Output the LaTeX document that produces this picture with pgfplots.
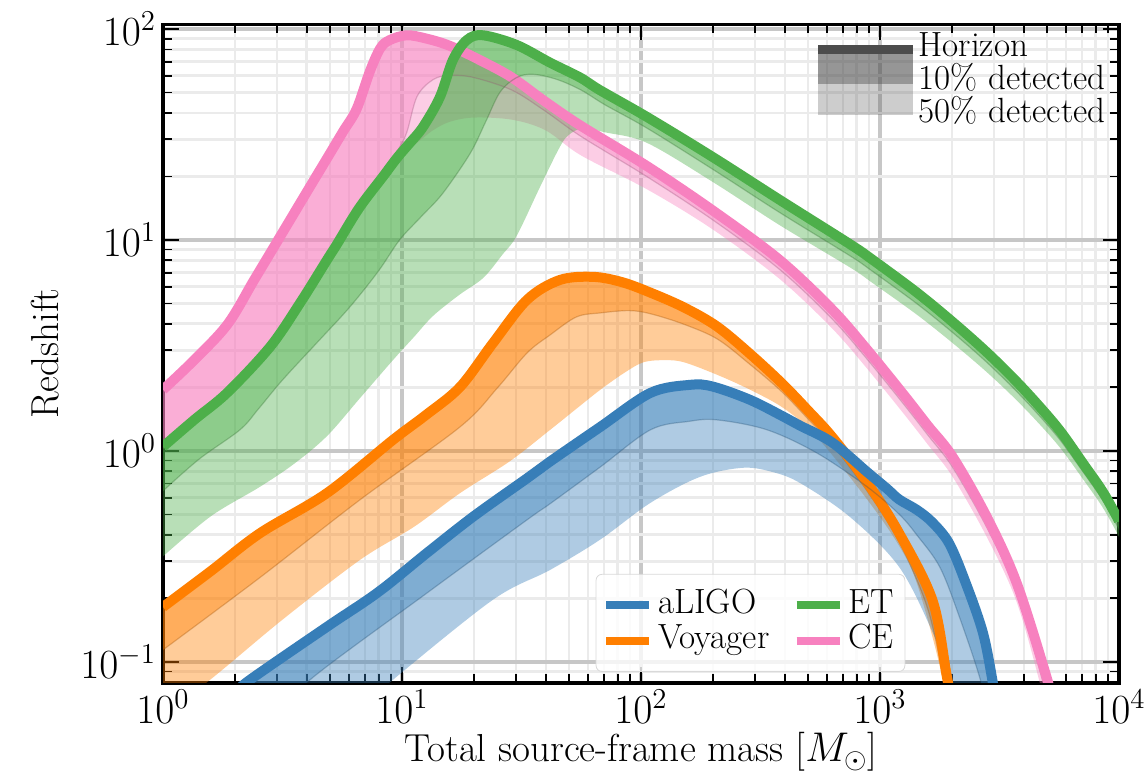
\documentclass[border=0pt]{standalone}
\usepackage{pgfplots}
\usepackage{pgfplotstable}
\pgfplotsset{compat=1.18}
\usepgfplotslibrary{fillbetween}
\definecolor{cblue}{HTML}{377EB8}
\definecolor{corange}{HTML}{FF7F00}
\definecolor{cgreen}{HTML}{4DAF4A}
\definecolor{cpink}{HTML}{F781BF}

% ---------------- CE ----------------
\pgfplotstableread{
M z
1 1.950
1.349 2.692
1.862 3.981
2.399 6.427
2.884 9.099
3.499 13.12
4.169 18.28
4.853 24.32
5.662 32.58
6.457 41.69
7.345 63.10
8.128 81.28
8.913 88.72
10.47 93.33
12.59 90.16
15.85 83.18
21.38 70.79
28.84 58.88
39.81 45.19
56.23 34.67
105.9 22.39
199.5 13.80
380.2 8.035
631.0 4.677
883.1 3.020
1259 1.841
1585 1.318
2018 0.9333
2818 0.4786
3741 0.2344
5012 0.0822
5754 0.0447
}\ceH
\pgfplotstableread{
M z
1 1.072
1.854 1.950
2.805 3.236
3.741 5.248
4.853 8.318
5.346 10.23
6.607 14.45
8.318 20.42
9.550 26.30
10.47 32.36
11.56 47.86
13.49 57.54
15.85 60.26
19.95 58.88
28.84 51.29
39.81 40.74
56.23 30.90
105.9 19.95
199.5 12.45
380.2 7.244
631.0 4.217
883.1 2.723
1259 1.660
1585 1.189
2018 0.8318
2818 0.4266
3741 0.2113
4898 0.0741
5623 0.0398
}\ceT
\pgfplotstableread{
M z
1 1.023
1.854 1.862
2.805 3.090
3.741 5.012
4.853 7.943
5.346 9.772
6.607 13.80
8.318 19.50
9.550 23.99
10.47 26.30
11.56 28.84
13.49 33.11
15.85 36.31
19.95 38.02
28.84 37.15
39.81 33.11
56.23 25.12
105.9 17.38
199.5 11.22
380.2 6.531
631.0 3.802
883.1 2.455
1259 1.496
1585 1.072
2018 0.7499
2818 0.3846
3741 0.1905
4786 0.0708
5623 0.0316
}\ceF
% ---------------- ET ----------------
\pgfplotstableread{
M z
1 1.047
1.361 1.413
1.854 1.884
2.805 3.112
3.741 5.012
4.853 8.035
5.346 9.550
6.607 14.13
8.318 19.95
9.550 24.55
10.79 28.84
12.25 34.36
14.42 47.64
16.33 71.29
18.71 88.72
21.83 93.33
30.20 83.95
41.69 69.18
55.59 58.88
67.30 51.29
105.9 38.28
199.5 24.72
380.2 15.49
748.2 9.550
933.3 8.035
1429 5.623
1995 4.121
2692 3.055
3467 2.317
4365 1.758
5623 1.259
7079 0.8710
8511 0.6457
9772 0.4898
10000 0.4624
}\etH
\pgfplotstableread{
M z
1 0.6457
1.413 0.9120
2.099 1.259
2.512 1.585
3.162 2.168
4.467 3.311
6.026 4.786
7.943 7.079
9.772 10.0
12.02 12.88
14.79 16.60
19.28 25.70
22.39 36.31
25.70 50.12
30.20 58.88
35.48 60.95
44.67 57.54
56.23 51.29
70.79 43.65
105.9 33.88
199.5 21.63
380.2 13.49
748.2 8.414
933.3 7.079
1429 4.977
1995 3.673
2692 2.735
3467 2.080
4365 1.585
5623 1.140
7079 0.7943
8511 0.5888
9772 0.4467
10000 0.4217
}\etT
\pgfplotstableread{
M z
1 0.3162
1.585 0.4898
2.547 0.6761
3.548 0.8710
4.853 1.175
6.668 1.778
9.162 2.692
11.22 3.467
13.49 4.365
17.38 5.495
21.88 6.607
26.30 8.511
30.20 10.47
37.76 17.78
45.71 27.54
50.12 31.62
57.54 33.88
70.79 32.36
105.9 28.84
199.5 18.84
380.2 11.75
748.2 7.413
933.3 6.237
1429 4.416
1995 3.273
2692 2.455
3467 1.884
4365 1.445
5623 1.047
7079 0.7328
8511 0.5433
9772 0.4121
10000 0.3890
}\etF
% ---------------- Voyager ----------------
\pgfplotstableread{
M z
1 0.1820
1.585 0.2692
2.547 0.4074
4.853 0.6310
9.162 1.127
12.59 1.479
17.50 2.009
23.99 3.236
33.34 5.200
45.71 6.457
63.10 6.683
83.18 6.310
109.6 5.623
151.4 4.786
208.0 3.890
285.8 2.884
389.0 2.089
501.2 1.549
631.0 1.164
883.1 0.7079
1202 0.4074
1660 0.1950
1905 0.0851
2089 0.0501
}\voH
\pgfplotstableread{
M z
1 0.1140
2.547 0.2512
6.668 0.5861
17.50 1.300
25.12 1.995
33.34 2.911
41.69 3.548
53.70 4.315
67.61 4.508
89.13 4.624
109.6 4.467
151.4 3.981
208.9 3.388
285.8 2.570
389.0 1.905
501.2 1.413
631.0 1.072
883.1 0.6457
1202 0.3715
1585 0.1778
1862 0.0794
2042 0.0501
}\voT
\pgfplotstableread{
M z
1 0.0562
1.574 0.0822
3.162 0.1585
6.668 0.3041
11.22 0.4365
17.50 0.6310
28.18 0.8913
41.69 1.259
53.70 1.585
67.61 1.950
85.11 2.344
102.3 2.630
125.9 2.692
151.4 2.630
208.9 2.291
285.8 1.950
398.1 1.585
544.5 1.164
883.1 0.5888
1202 0.3548
1429 0.2344
1778 0.0955
1950 0.0501
}\voF
% ---------------- aLIGO ----------------
\pgfplotstableread{
M z
1.995 0.0708
2.312 0.0822
4.853 0.1466
7.943 0.2138
12.74 0.3289
19.95 0.4898
33.34 0.7413
41.69 0.8913
67.61 1.300
109.6 1.884
160.3 2.056
199.5 2.018
285.8 1.746
398.1 1.445
462.4 1.318
631.0 1.096
883.1 0.7943
1072 0.6607
1202 0.5888
1429 0.5248
1660 0.4571
1950 0.3631
2291 0.2344
2692 0.1380
2951 0.0822
3162 0.0501
}\alH
\pgfplotstableread{
M z
3.162 0.0562
4.121 0.0822
12.74 0.2123
33.34 0.4710
41.69 0.5623
67.61 0.8395
109.6 1.259
158.5 1.380
208.0 1.403
336.5 1.259
544.5 0.9772
883.1 0.6761
1202 0.5012
1429 0.3981
1778 0.2818
2138 0.1660
2630 0.0822
2884 0.0501
}\alT
\pgfplotstableread{
M z
6.310 0.0562
9.162 0.0822
23.99 0.1968
41.69 0.2729
67.61 0.3802
109.6 0.5675
176.6 0.7534
267.3 0.8318
354.8 0.7943
462.4 0.7047
748.2 0.4864
1202 0.2818
1660 0.1380
1995 0.0794
2188 0.0501
}\alF

\newcommand{\lblfont}{\fontsize{19.5}{23}\selectfont}
\newcommand{\tckfont}{\fontsize{19.5}{23}\selectfont}
\newcommand{\legfont}{\fontsize{17.5}{20}\selectfont}

\pgfplotsset{
  curve/.style={smooth, tension=0.55, forget plot},
  pathonly/.style={curve, draw=none},
}

\begin{document}
\begin{tikzpicture}
\begin{axis}[name=main,
  scale only axis, width=478pt, height=329.2pt,
  xmode=log, ymode=log,
  xmin=1, xmax=10000, ymin=0.0795, ymax=105,
  no markers,
  xtick={1,10,100,1000,10000},
  ytick={0.1,1,10,100},
  minor xtick={2,3,4,5,6,7,8,9,20,30,40,50,60,70,80,90,200,300,400,500,600,700,800,900,2000,3000,4000,5000,6000,7000,8000,9000},
  minor ytick={0.09,0.2,0.3,0.4,0.5,0.6,0.7,0.8,0.9,2,3,4,5,6,7,8,9,20,30,40,50,60,70,80,90},
  grid=both,
  major grid style={draw=black!22, line width=2pt},
  minor grid style={draw=black!8, line width=1.4pt},
  tick align=inside,
  major tick length=8pt, minor tick length=4.5pt,
  major tick style={black, line width=1.1pt},
  minor tick style={black, line width=0.9pt},
  axis line style={line width=1.6pt},
  tick label style={font=\tckfont},
  label style={font=\lblfont},
  xlabel={Total source-frame mass [$M_\odot$]},
  ylabel={Redshift},
  xlabel style={at={(axis description cs:0.5,-0.105)}, anchor=center},
  ylabel style={at={(axis description cs:-0.1234,0.5)}, anchor=center},
  legend columns=2,
  legend cell align=left,
  legend image code/.code={\draw[#1] (0pt,0pt) -- (21.5pt,0pt);},
  legend style={at={(0.6145,0.0167)}, anchor=south, font=\legfont,
    draw=black!15, rounded corners=3pt, fill=white, fill opacity=0.8, text opacity=1,
    inner xsep=3pt, inner ysep=6.5pt,
    nodes={inner xsep=2.5pt, inner ysep=1.2pt, text height=11.8pt, text depth=3.6pt},
    /tikz/every even column/.append style={column sep=9pt}},
]
% ----- CE -----
\addplot[pathonly, name path=ceH] table {\ceH};
\addplot[pathonly, name path=ceT] table {\ceT};
\addplot[pathonly, name path=ceF] table {\ceF};
\addplot[fill=cpink, fill opacity=0.4, draw=none, forget plot] fill between[of=ceH and ceF];
\addplot[fill=cpink, fill opacity=0.4, draw=none, forget plot] fill between[of=ceH and ceT];
\addplot[curve, cpink!60!black, opacity=0.3, line width=0.6pt] table {\ceT};
\addplot[curve, cpink, line width=5pt] table {\ceH};
% ----- ET -----
\addplot[pathonly, name path=etH] table {\etH};
\addplot[pathonly, name path=etT] table {\etT};
\addplot[pathonly, name path=etF] table {\etF};
\addplot[fill=cgreen, fill opacity=0.4, draw=none, forget plot] fill between[of=etH and etF];
\addplot[fill=cgreen, fill opacity=0.4, draw=none, forget plot] fill between[of=etH and etT];
\addplot[curve, cgreen!60!black, opacity=0.3, line width=0.6pt] table {\etT};
\addplot[curve, cgreen, line width=5pt] table {\etH};
% ----- Voyager -----
\addplot[pathonly, name path=voH] table {\voH};
\addplot[pathonly, name path=voT] table {\voT};
\addplot[pathonly, name path=voF] table {\voF};
\addplot[fill=corange, fill opacity=0.4, draw=none, forget plot] fill between[of=voH and voF];
\addplot[fill=corange, fill opacity=0.4, draw=none, forget plot] fill between[of=voH and voT];
\addplot[curve, corange!60!black, opacity=0.3, line width=0.6pt] table {\voT};
\addplot[curve, corange, line width=5pt] table {\voH};
% ----- aLIGO -----
\addplot[pathonly, name path=alH] table {\alH};
\addplot[pathonly, name path=alT] table {\alT};
\addplot[pathonly, name path=alF] table {\alF};
\addplot[fill=cblue, fill opacity=0.4, draw=none, forget plot] fill between[of=alH and alF];
\addplot[fill=cblue, fill opacity=0.4, draw=none, forget plot] fill between[of=alH and alT];
\addplot[curve, cblue!60!black, opacity=0.3, line width=0.6pt] table {\alT};
\addplot[curve, cblue, line width=5pt] table {\alH};
% ----- legend -----
\addlegendimage{cblue, line width=4pt}
\addlegendentry{aLIGO}
\addlegendimage{cgreen, line width=4pt}
\addlegendentry{ET}
\addlegendimage{corange, line width=4pt}
\addlegendentry{Voyager}
\addlegendimage{cpink, line width=4pt}
\addlegendentry{CE}
\end{axis}
% second (invisible) axis holding the detection-level legend
\begin{axis}[at={(main.south west)}, anchor=south west,
  scale only axis, width=478pt, height=329.2pt,
  hide axis, xmin=0, xmax=1, ymin=0, ymax=1, no markers,
  legend cell align=left,
  legend style={at={(0.9916,0.993)}, anchor=north east, draw=none, fill=none,
    font=\legfont, inner sep=0pt, row sep=0pt,
    nodes={inner xsep=2.5pt, inner ysep=1.75pt, text height=12pt, text depth=1pt}},
]
\addlegendimage{legend image code/.code={\fill[overlay, draw=none, black!70] (0pt,-4pt) rectangle (47.5pt,0.5pt); \path[draw=none] (0pt,0pt) -- (47.5pt,0pt);}}
\addlegendentry{Horizon}
\addlegendimage{legend image code/.code={\fill[overlay, draw=none, black!70, fill opacity=0.59] (0pt,-2.5pt) rectangle (47.5pt,12.5pt); \path[draw=none] (0pt,0pt) -- (47.5pt,0pt);}}
\addlegendentry{10\% detected}
\addlegendimage{legend image code/.code={\fill[overlay, draw=none, black!70, fill opacity=0.28] (0pt,-1.5pt) rectangle (47.5pt,14pt); \path[draw=none] (0pt,0pt) -- (47.5pt,0pt);}}
\addlegendentry{50\% detected}
\end{axis}
\pgfresetboundingbox
\path[use as bounding box] ([shift={(-81.5pt,-45.5pt)}]main.south west) rectangle ([shift={(14pt,12.25pt)}]main.north east);
\end{tikzpicture}
\end{document}
